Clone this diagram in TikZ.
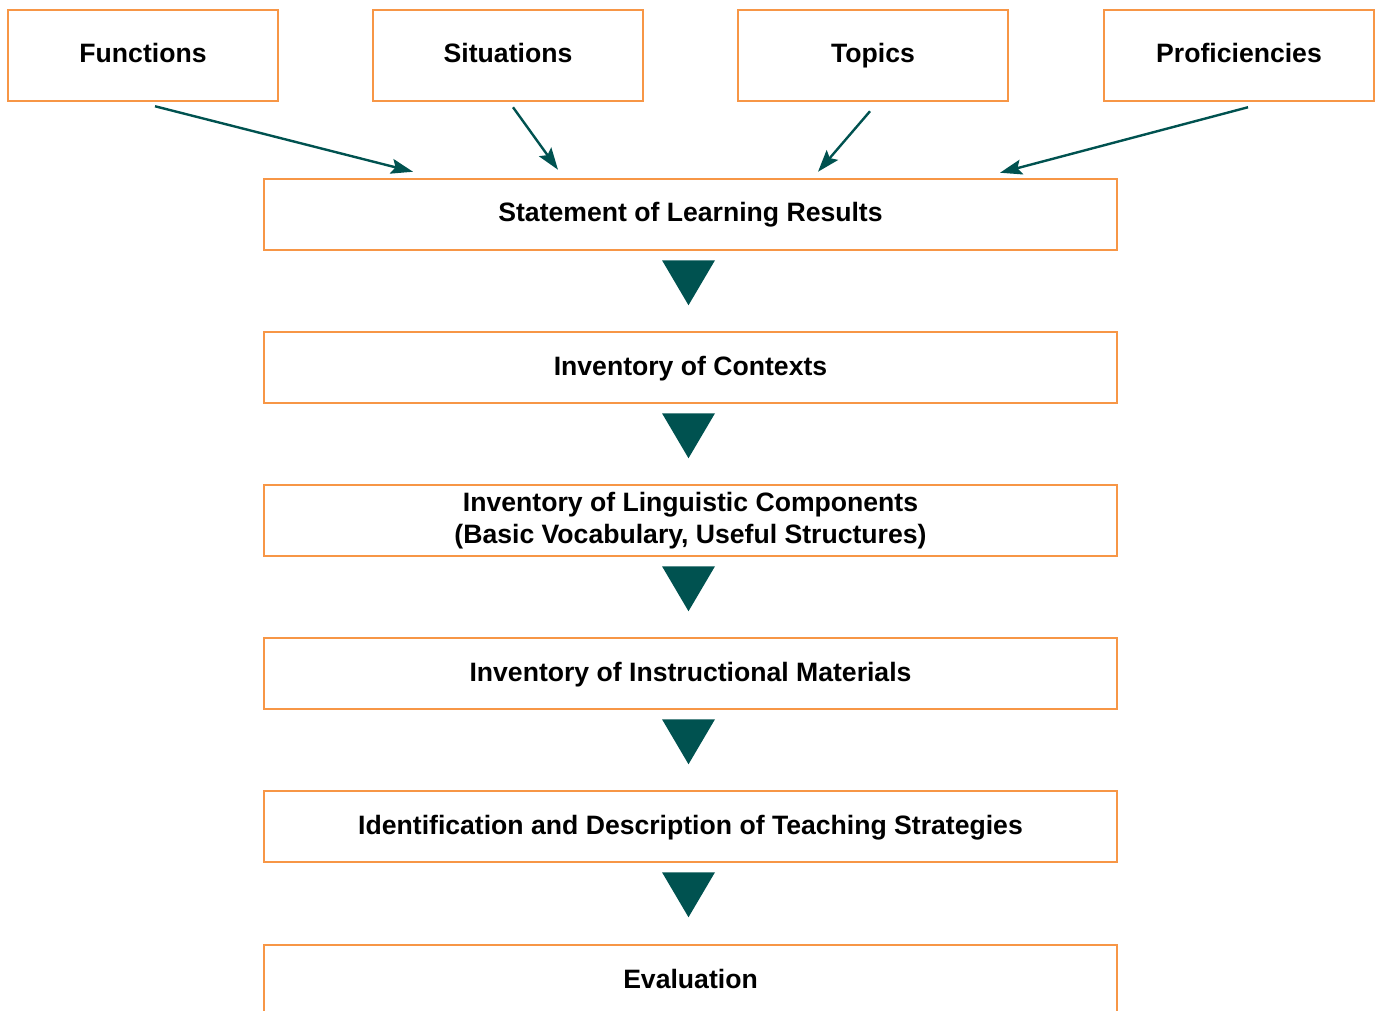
\documentclass[tikz,border=0pt]{standalone}
\usepackage{fontspec}
\setmainfont{Liberation Sans}
\usetikzlibrary{arrows.meta,calc}
\definecolor{boxorange}{RGB}{247,150,70}
\definecolor{deepteal}{RGB}{0,82,80}
\begin{document}
\begin{tikzpicture}[x=1pt,y=-1pt,
  box/.style={draw=boxorange, line width=2.5pt, fill=white, rectangle,
    inner sep=0pt, font=\fontsize{26.6}{32}\selectfont\bfseries, align=center},
  oneline/.style={text height=19pt, text depth=4pt},
  topbox/.style={box, oneline, minimum width=270pt, minimum height=91pt},
  stagebox/.style={box, minimum width=853pt, minimum height=71pt},
  feed/.style={draw=deepteal, line width=2.4pt,
    -{Stealth[length=22pt,width=15pt,inset=4pt]}},
  down/.style={fill=deepteal}
]
\clip (0,0) rectangle (1378,1011);

% source categories along the top
\node[topbox] (func) at (143,55.5)  {Functions};
\node[topbox] (sit)  at (508,55.5)  {Situations};
\node[topbox] (top)  at (873,55.5)  {Topics};
\node[topbox] (prof) at (1239,55.5) {Proficiencies};

% sequence of planning stages
\node[stagebox, oneline] (slr)  at (690.5,214.5) {Statement of Learning Results};
\node[stagebox, oneline] (ctx)  at (690.5,367.5) {Inventory of Contexts};
\node[stagebox] (ling) at (690.5,520.5) {Inventory of Linguistic Components\\(Basic Vocabulary, Useful Structures)};
\node[stagebox, oneline] (mat)  at (690.5,673.5) {Inventory of Instructional Materials};
\node[stagebox, oneline] (strat) at (690.5,826.5) {Identification and Description of Teaching Strategies};
\node[stagebox, oneline] (eval) at (690.5,980.5) {Evaluation};

% inputs feeding the first stage
\draw[feed] ([shift={(12,4)}]func.south) -- ([shift={(-277.5,-6)}]slr.north);
\draw[feed] ([shift={(5,5)}]sit.south)   -- ([shift={(-132.5,-8)}]slr.north);
\draw[feed] ([shift={(-3,9)}]top.south)  -- ([shift={(127.5,-6)}]slr.north);
\draw[feed] ([shift={(9,5)}]prof.south)  -- ([shift={(309.5,-5)}]slr.north);

% downward triangles between stages
\foreach \s in {slr,ctx,ling,mat,strat}{
  \fill[down] ($(\s.south)+(-28.5,9)$) -- ($(\s.south)+(24.5,9)$)
    -- ($(\s.south)+(-2,54)$) -- cycle;
}
\end{tikzpicture}
\end{document}
